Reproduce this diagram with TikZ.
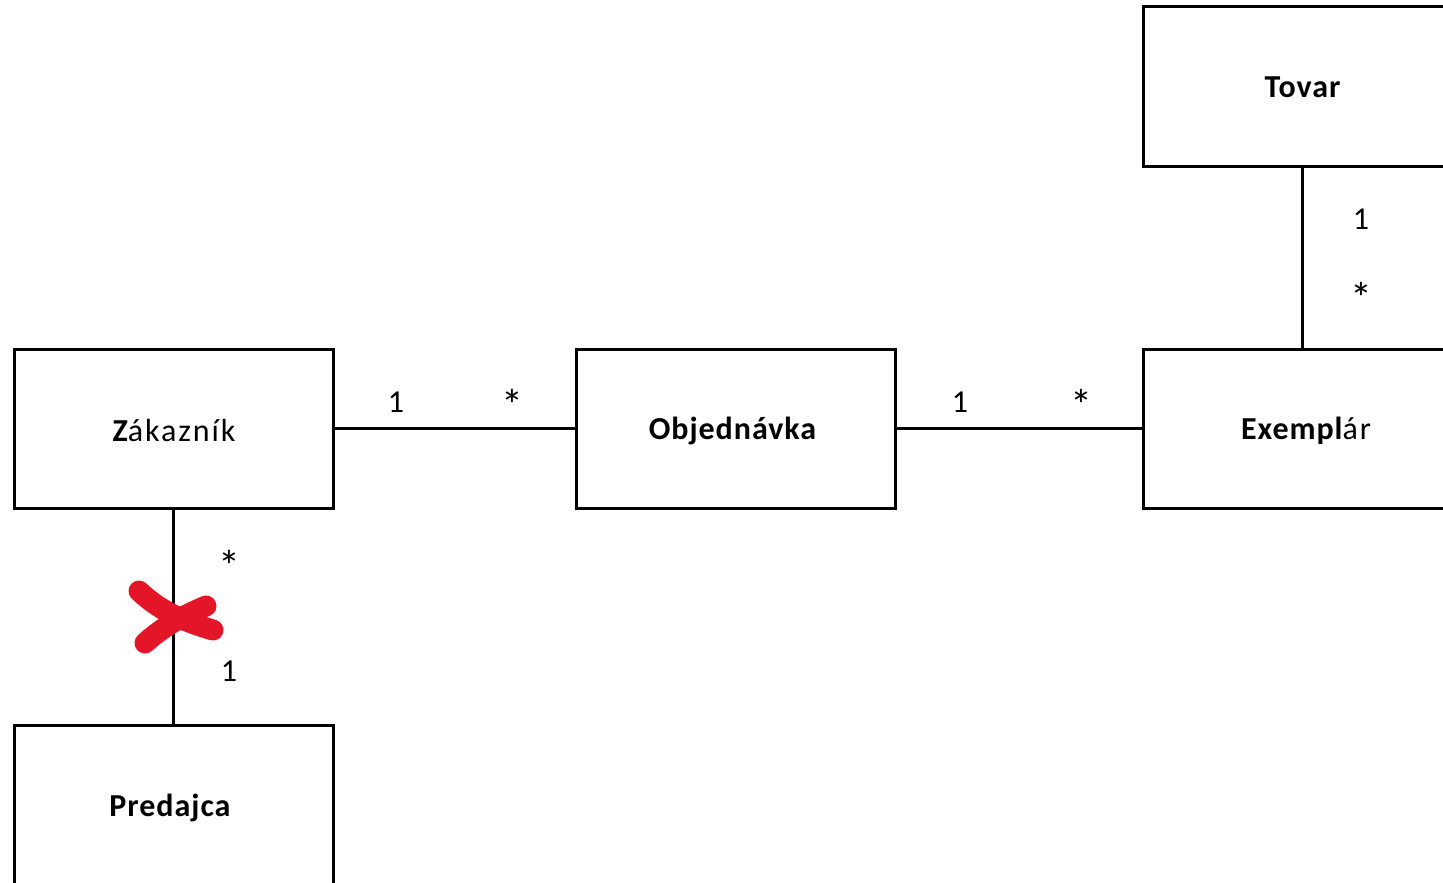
\documentclass[tikz,border=0pt]{standalone}
\usepackage{fontspec}
\setmainfont{Carlito}
\newcommand{\rg}[1]{{\addfontfeature{LetterSpace=6}#1}}
\newcommand{\bd}[1]{{\bfseries\addfontfeature{LetterSpace=3}#1}}
\begin{document}
\begin{tikzpicture}[x=1pt,y=-1pt,
  cls/.style={draw, line width=3pt, rectangle, minimum width=319pt, minimum height=159pt, inner sep=0pt, font=\fontsize{32}{38}\selectfont},
  lbl/.style={inner sep=0pt, font=\fontsize{32}{38}\selectfont},
  conn/.style={line width=3pt},
  mult/.style={inner sep=0pt, font=\fontsize{32}{38}\selectfont},
  star/.style={inner sep=0pt, font=\fontsize{44}{50}\selectfont},
  cross/.style={line width=21pt, line cap=round, color=xred}]
\definecolor{xred}{HTML}{E31527}
\useasboundingbox (0,0) rectangle (1443,883);
\clip (0,0) rectangle (1443,883);
\node[cls] (tov) at (1302.5,86.5) {};
\node[cls] (zak) at (173.5,428.5) {};
\node[cls] (obj) at (735.5,428.5) {};
\node[cls] (exe) at (1302.5,428.5) {};
\node[cls] (pre) at (173.5,804.5) {};
\node[lbl] (tovt) at (1302.5,87) {\bd{Tovar}};
\node[lbl] (zakt) at (174,431) {\bd{Z}\rg{ákazník}};
\node[lbl] (objt) at (732.5,431) {\bd{Objednávka}};
\node[lbl] (exet) at (1306,431) {\bd{Exempl}\rg{ár}};
\node[lbl] (pret) at (170,808) {\bd{Predajca}};
\draw[conn] (zak.east) -- (obj.west);
\draw[conn] (obj.east) -- (exe.west);
\draw[conn] (tov.south) -- (exe.north);
\draw[conn] (zak.south) -- (pre.north);
\node[mult] (m1) at (396,402) {1};
\node[star] (m2) at (512,405) {*};
\node[mult] (m3) at (960,402) {1};
\node[star] (m4) at (1081,405) {*};
\node[mult] (m5) at (1361,219) {1};
\node[star] (m6) at (1361,298) {*};
\node[star] (m7) at (229,566) {*};
\node[mult] (m8) at (229,671) {1};
\draw[cross] (139,591) .. controls (160,611) and (185,622) .. (213,630);
\draw[cross] (145,643) .. controls (165,625) and (185,615) .. (206,606);
\end{tikzpicture}
\end{document}
